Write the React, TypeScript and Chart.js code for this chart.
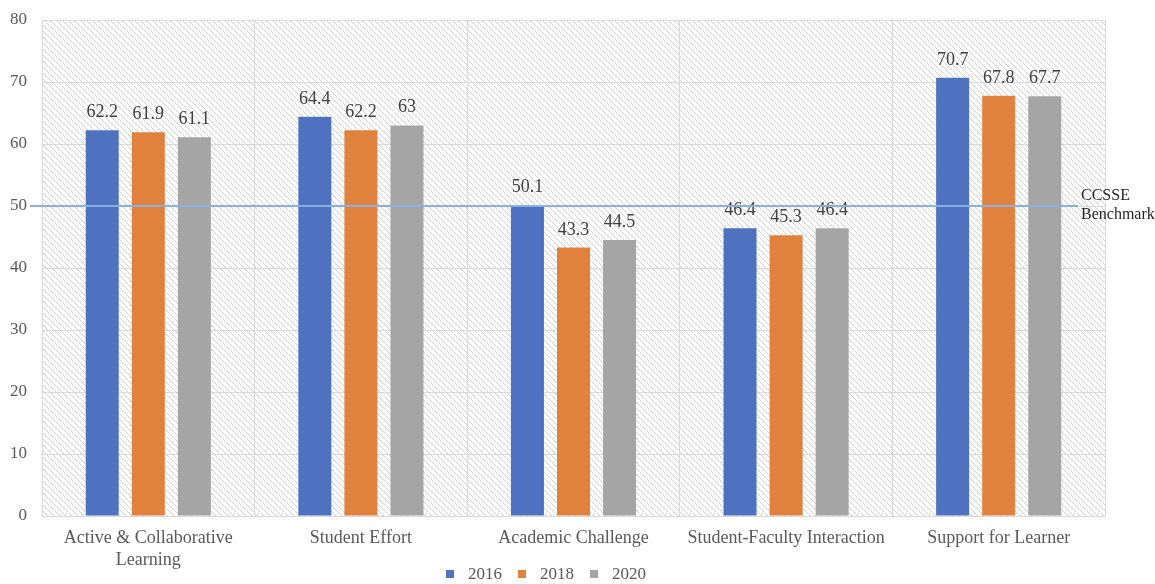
import React, { useEffect, useRef } from "react";
import { Chart, registerables } from "chart.js";

Chart.register(...registerables);

const categories: (string | string[])[] = [
  ["Active & Collaborative", "Learning"],
  "Student Effort",
  "Academic Challenge",
  "Student-Faculty Interaction",
  "Support for Learner",
];
const seriesNames = ["2016", "2018", "2020"];
const values2016 = [62.2, 64.4, 50.1, 46.4, 70.7];
const values2018 = [61.9, 62.2, 43.3, 45.3, 67.8];
const values2020 = [61.1, 63, 44.5, 46.4, 67.7];
const benchmarkValue = 50;
const benchmarkLabel = ["CCSSE", "Benchmark"];
const yMin = 0;
const yMax = 80;
const yStep = 10;

const colors = ["#4e72bf", "#e0823e", "#a5a5a5"];
const FONT = "'Liberation Serif', 'DejaVu Serif', serif";

function makeHatch(): CanvasPattern | string {
  const c = document.createElement("canvas");
  const s = 6;
  c.width = s;
  c.height = s;
  const g = c.getContext("2d");
  if (!g) return "#ffffff";
  g.fillStyle = "#ffffff";
  g.fillRect(0, 0, s, s);
  g.strokeStyle = "#d2d2d2";
  g.lineWidth = 1;
  g.beginPath();
  g.moveTo(-1, -1);
  g.lineTo(s + 1, s + 1);
  g.moveTo(-1, s - 1);
  g.lineTo(1, s + 1);
  g.moveTo(s - 1, -1);
  g.lineTo(s + 1, 1);
  g.stroke();
  const p = g.createPattern(c, "repeat");
  return p || "#ffffff";
}

export default function App() {
  const ref = useRef<HTMLCanvasElement | null>(null);

  useEffect(() => {
    const canvas = ref.current;
    if (!canvas) return;
    const hatch = makeHatch();

    const hatchPlugin = {
      id: "hatchBg",
      beforeDraw(chart: any) {
        const { ctx, chartArea } = chart;
        ctx.save();
        ctx.fillStyle = hatch;
        ctx.fillRect(chartArea.left, chartArea.top, chartArea.right - chartArea.left, chartArea.bottom - chartArea.top);
        ctx.restore();
      },
    };

    const overlayPlugin = {
      id: "overlay",
      afterDatasetsDraw(chart: any) {
        const { ctx, chartArea } = chart;
        const yScale = chart.scales.y;
        ctx.save();
        // data labels
        ctx.font = `18px ${FONT}`;
        ctx.fillStyle = "#404040";
        ctx.textAlign = "center";
        ctx.textBaseline = "alphabetic";
        chart.data.datasets.forEach((ds: any, di: number) => {
          const meta = chart.getDatasetMeta(di);
          meta.data.forEach((el: any, i: number) => {
            ctx.fillText(String(ds.data[i]), el.x, el.y - 13);
          });
        });
        // benchmark line
        const by = Math.round(yScale.getPixelForValue(benchmarkValue));
        ctx.strokeStyle = "#8ab0e2";
        ctx.lineWidth = 2;
        ctx.beginPath();
        ctx.moveTo(chartArea.left - 12, by);
        ctx.lineTo(chartArea.right - 27, by);
        ctx.stroke();
        ctx.font = `16px ${FONT}`;
        ctx.fillStyle = "#262626";
        ctx.textAlign = "left";
        ctx.textBaseline = "middle";
        ctx.fillText(benchmarkLabel[0], chartArea.right - 24, by - 10);
        ctx.fillText(benchmarkLabel[1], chartArea.right - 24, by + 9);
        // legend
        ctx.font = `17px ${FONT}`;
        const box = 8;
        const gapBoxText = 14;
        const gapItems = 16;
        const widths = chart.data.datasets.map((d: any) => ctx.measureText(d.label).width);
        const total = widths.reduce((a: number, w: number) => a + box + gapBoxText + w, 0) + gapItems * (widths.length - 1);
        let x = 546 - total / 2;
        const ly = 574;
        chart.data.datasets.forEach((d: any, i: number) => {
          ctx.fillStyle = d.backgroundColor;
          ctx.fillRect(x, ly - box / 2, box, box);
          x += box + gapBoxText;
          ctx.fillStyle = "#595959";
          ctx.textBaseline = "middle";
          ctx.fillText(d.label, x, ly + 1);
          x += widths[i] + gapItems;
        });
        ctx.restore();
      },
    };

    const chart = new Chart(canvas, {
      type: "bar",
      data: {
        labels: categories,
        datasets: [values2016, values2018, values2020].map((vals, i) => ({
          label: seriesNames[i],
          data: vals,
          backgroundColor: colors[i],
          borderWidth: 0,
          categoryPercentage: 0.65,
          barPercentage: 0.717,
        })),
      },
      options: {
        responsive: false,
        animation: false,
        layout: { padding: { left: 0, right: 50, top: 20, bottom: 8 } },
        plugins: {
          legend: { display: false },
          tooltip: { enabled: false },
        },
        scales: {
          x: {
            grid: { color: "#d9d9d9", lineWidth: 1, drawTicks: false, offset: true },
            border: { color: "#d9d9d9" },
            ticks: {
              color: "#595959",
              font: { family: FONT, size: 18, lineHeight: 1.22 },
              padding: 11,
              maxRotation: 0,
              autoSkip: false,
            },
            afterFit(scale: any) {
              scale.height = 60;
              scale.paddingLeft = 0;
              scale.paddingRight = 0;
            },
          },
          y: {
            min: yMin,
            max: yMax,
            grid: { color: "#d9d9d9", lineWidth: 1, drawTicks: false },
            border: { color: "#d9d9d9" },
            ticks: {
              stepSize: yStep,
              color: "#595959",
              font: { family: FONT, size: 17 },
              padding: 15,
            },
            afterFit(scale: any) {
              scale.width = 42;
              scale.paddingTop = 0;
              scale.paddingBottom = 0;
            },
          },
        },
      },
      plugins: [hatchPlugin, overlayPlugin],
    });
    return () => chart.destroy();
  }, []);

  return (
    <div style={{ position: "fixed", left: 0, top: 0, width: 1155, height: 584, background: "#fff" }}>
      <canvas ref={ref} width={1155} height={584} style={{ display: "block" }} />
    </div>
  );
}
